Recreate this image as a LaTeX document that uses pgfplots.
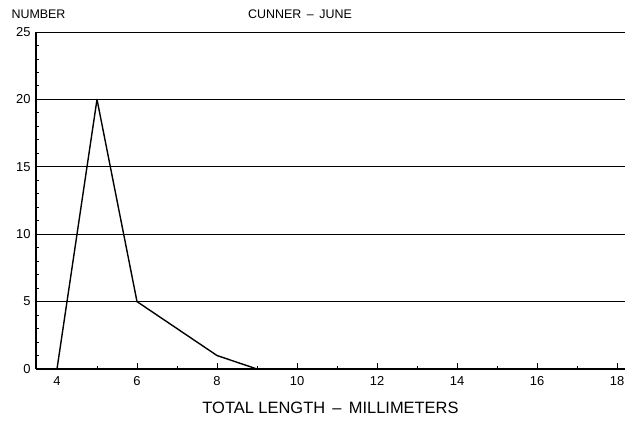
\documentclass[border=0pt]{standalone}
\usepackage{fontspec}
\setmainfont{Liberation Sans}
\usepackage{pgfplots}
\pgfplotsset{compat=1.18}
\begin{document}
\begin{tikzpicture}[x=1bp,y=1bp]
\useasboundingbox (0,0) rectangle (625,426);
\begin{axis}[
  at={(36bp,57bp)}, anchor=origin,
  scale only axis, width=589bp, height=337bp,
  xmin=3.475, xmax=18.2, ymin=0, ymax=25,
  axis x line=bottom, axis y line=left,
  axis line style={line width=1.3pt,-},
  xtick={4,6,...,18}, minor xtick={5,7,...,17},
  ytick={0,5,...,25}, minor ytick={1,2,3,4,6,7,8,9,11,12,13,14,16,17,18,19,21,22,23,24},
  tick align=inside, major tick length=6bp, minor tick length=3bp,
  tick style={line width=0.9pt,black},
  ymajorgrids, grid style={line width=0.9pt,black},
  /pgf/number format/assume math mode=true,
  ticklabel style={font=\fontsize{13}{14}\selectfont},
  xticklabel style={yshift=-4bp},
  yticklabel style={xshift=-2bp},
  xlabel={TOTAL LENGTH \,--\, MILLIMETERS},
  xlabel style={font=\fontsize{16.5}{18}\selectfont, yshift=-9bp},
  clip=false,
]
\addplot[black, line width=1.4pt, line join=round] coordinates {(4,0) (5,20) (6,5) (7,3) (8,1) (9,0)};
\end{axis}
\node[anchor=base west, font=\fontsize{12.5}{14}\selectfont] at (8,407) {NUMBER};
\node[anchor=base, font=\fontsize{12.5}{14}\selectfont] at (300,407) {CUNNER \,--\, JUNE};
\end{tikzpicture}
\end{document}
